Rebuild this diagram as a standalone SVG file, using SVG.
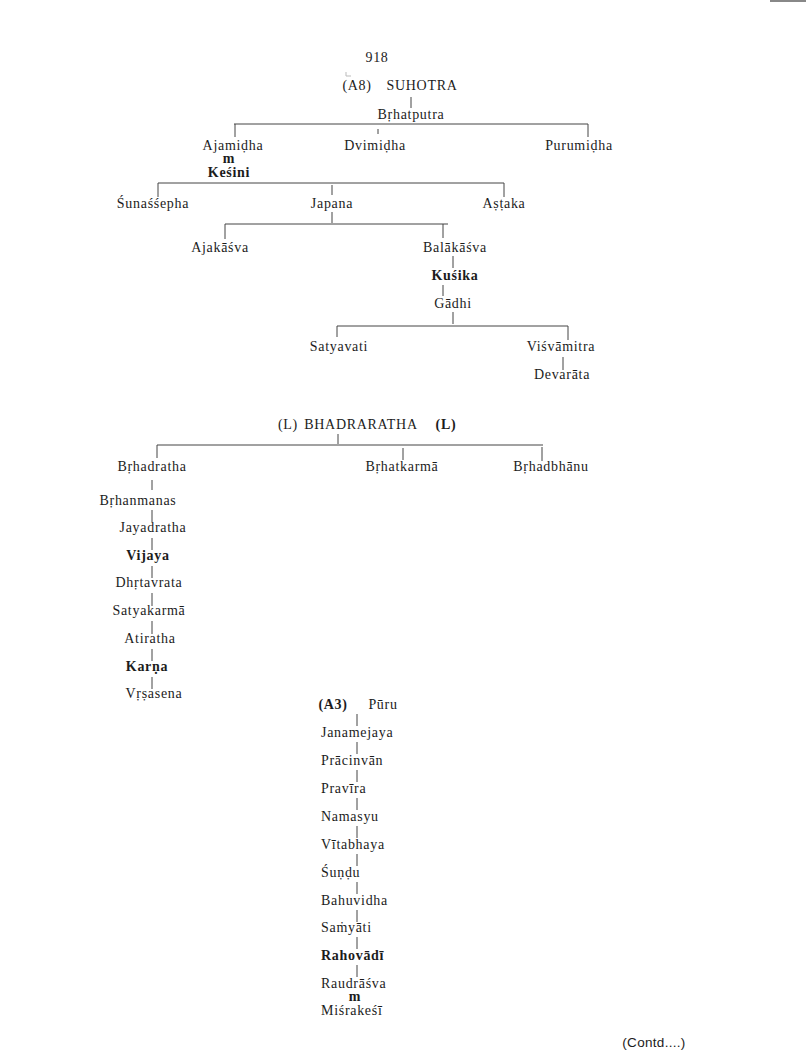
<svg xmlns="http://www.w3.org/2000/svg" width="806" height="1055" viewBox="0 0 806 1055">
<style>
.t{font-family:"Liberation Serif","DejaVu Serif",serif;font-size:14px;letter-spacing:0.7px;fill:#1c1c1c;text-anchor:middle}
.b{font-weight:bold}
.s{text-anchor:start}
.c{font-family:"Liberation Sans","DejaVu Sans",sans-serif;font-size:13.5px;letter-spacing:0.3px;fill:#1c1c1c;text-anchor:middle}
.ln{stroke:#444;stroke-width:1;fill:none}
</style>
<rect width="806" height="1055" fill="#fff"/>
<line x1="770" y1="1" x2="806" y2="1" stroke="#888" stroke-width="2"/>
<path d="M346 72 V76 H351" stroke="#bbb" stroke-width="1" fill="none"/>
<text class="t" x="377" y="62">918</text>
<g id="connectors" class="ln">
<path d="M411 97V108M234 124H588M235 124V137M378 129V134M588 124V137"/>
<path d="M158 183H504M158 183V197M332 185V195M504 183V197"/>
<path d="M332 212V223M225 224H448M225 224V239M443 224V238"/>
<path d="M453 256V268M443 285V296M453 312V324"/>
<path d="M337 326H568M337 326V337M568 326V340M563 357V370"/>
<path d="M338 434V444M157 445H543M157 445V458M403 448V460M542 447V461"/>
<path d="M152 480V490M152 510V522M152 538V550M152 566V578M152 593V606M152 621V634M152 649V661M152 677V689"/>
<path d="M357 714V726M357 742V754M357 770V782M357 798V810M357 826V838M357 854V866M357 882V894M357 910V922M357 937V949M357 965V977"/>
</g>
<g id="suhotra"><text class="t" x="357" y="90">(A8)</text><text class="t" x="422" y="90">SUHOTRA</text></g>
<g id="brhatputra"><text class="t" x="411" y="119">Bṛhatputra</text></g>
<g id="ajamidha"><text class="t" x="233" y="150">Ajamiḍha</text><text class="t b" x="229" y="163">m</text><text class="t b" x="229" y="177">Keśini</text></g>
<g id="dvimidha"><text class="t" x="375" y="150">Dvimiḍha</text></g>
<g id="purumidha"><text class="t" x="579" y="150">Purumiḍha</text></g>
<g id="sunassepha"><text class="t" x="153" y="208">Śunaśśepha</text></g>
<g id="japana"><text class="t" x="332" y="208">Japana</text></g>
<g id="astaka"><text class="t" x="504" y="208">Aṣṭaka</text></g>
<g id="ajakasva"><text class="t" x="220" y="252">Ajakāśva</text></g>
<g id="balakasva"><text class="t" x="455" y="252">Balākāśva</text></g>
<g id="kusika"><text class="t b" x="455" y="280">Kuśika</text></g>
<g id="gadhi"><text class="t" x="453" y="308">Gādhi</text></g>
<g id="satyavati"><text class="t" x="339" y="351">Satyavati</text></g>
<g id="visvamitra"><text class="t" x="561" y="351">Viśvāmitra</text></g>
<g id="devarata"><text class="t" x="562" y="379">Devarāta</text></g>
<g id="bhadraratha"><text class="t" x="288" y="429">(L)</text><text class="t" x="361" y="429">BHADRARATHA</text><text class="t b" x="446" y="429">(L)</text></g>
<g id="brhadratha"><text class="t" x="152" y="471">Bṛhadratha</text></g>
<g id="brhatkarma"><text class="t" x="402" y="471">Bṛhatkarmā</text></g>
<g id="brhadbhanu"><text class="t" x="551" y="471">Bṛhadbhānu</text></g>
<g id="brhanmanas"><text class="t" x="138" y="505">Bṛhanmanas</text></g>
<g id="jayadratha"><text class="t" x="153" y="532">Jayadratha</text></g>
<g id="vijaya"><text class="t b" x="148" y="560">Vijaya</text></g>
<g id="dhrtavrata"><text class="t" x="149" y="587">Dhṛtavrata</text></g>
<g id="satyakarma"><text class="t" x="149" y="615">Satyakarmā</text></g>
<g id="atiratha"><text class="t" x="150" y="643">Atiratha</text></g>
<g id="karna"><text class="t b" x="147" y="671">Karṇa</text></g>
<g id="vrsasena"><text class="t" x="154" y="698">Vṛṣasena</text></g>
<g id="puru"><text class="t b" x="333" y="709">(A3)</text><text class="t" x="383" y="709">Pūru</text></g>
<g id="janamejaya"><text class="t s" x="321" y="737">Janamejaya</text></g>
<g id="pracinvan"><text class="t s" x="321" y="765">Prācinvān</text></g>
<g id="pravira"><text class="t s" x="321" y="793">Pravīra</text></g>
<g id="namasyu"><text class="t s" x="321" y="821">Namasyu</text></g>
<g id="vitabhaya"><text class="t s" x="321" y="849">Vītabhaya</text></g>
<g id="sundu"><text class="t s" x="321" y="877">Śuṇḍu</text></g>
<g id="bahuvidha"><text class="t s" x="321" y="905">Bahuvidha</text></g>
<g id="samyati"><text class="t s" x="321" y="932">Saṁyāti</text></g>
<g id="rahovadi"><text class="t s b" x="321" y="960">Rahovādī</text></g>
<g id="raudrasva"><text class="t s" x="321" y="988">Raudrāśva</text><text class="t b" x="355" y="1001">m</text><text class="t s" x="321" y="1015">Miśrakeśī</text></g>
<text class="c" x="654" y="1047">(Contd....)</text>
</svg>
